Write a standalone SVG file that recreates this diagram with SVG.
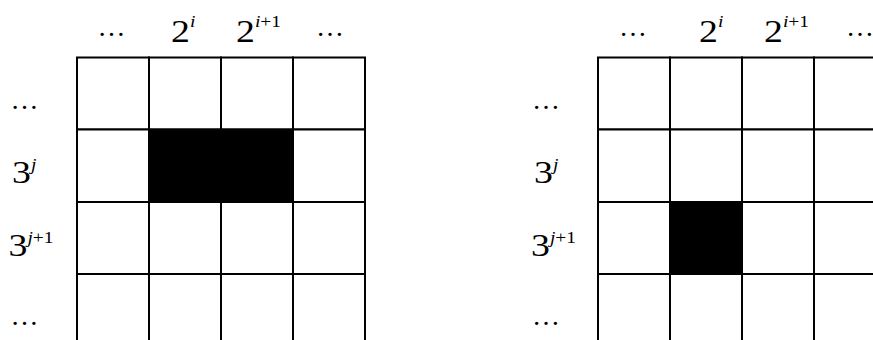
<svg xmlns="http://www.w3.org/2000/svg" width="873" height="340" viewBox="0 0 873 340">
<style>
text{font-family:"Liberation Serif","Times New Roman",serif;fill:#000}
text.m{font-size:31px}
text.d{font-size:28px}
tspan.sup{font-size:16px}
tspan.it{font-style:italic}
.cell{fill:#fff;stroke:#000;stroke-width:2}
.on{fill:#000;stroke:#000;stroke-width:2}
</style>
<rect width="873" height="340" fill="#fff"/>
<g id="left-grid">
<rect class="cell" x="77" y="57.5" width="72" height="72"/>
<rect class="cell" x="149" y="57.5" width="72" height="72"/>
<rect class="cell" x="221" y="57.5" width="72" height="72"/>
<rect class="cell" x="293" y="57.5" width="72" height="72"/>
<rect class="cell" x="77" y="129.5" width="72" height="72.5"/>
<rect class="on" x="149" y="129.5" width="144" height="72.5"/>
<rect class="cell" x="293" y="129.5" width="72" height="72.5"/>
<rect class="cell" x="77" y="202" width="72" height="72"/>
<rect class="cell" x="149" y="202" width="72" height="72"/>
<rect class="cell" x="221" y="202" width="72" height="72"/>
<rect class="cell" x="293" y="202" width="72" height="72"/>
<rect class="cell" x="77" y="274" width="72" height="80"/>
<rect class="cell" x="149" y="274" width="72" height="80"/>
<rect class="cell" x="221" y="274" width="72" height="80"/>
<rect class="cell" x="293" y="274" width="72" height="80"/>
</g>
<g id="left-labels">
<text class="d" x="97.5" y="36">…</text>
<text class="m" transform="translate(171 41.5) scale(1.22 1)">2<tspan class="sup it" dy="-15">i</tspan></text>
<text class="m" transform="translate(236 41.5) scale(1.22 1)">2<tspan class="sup" dy="-15"><tspan class="it">i</tspan>+1</tspan></text>
<text class="d" x="316" y="36">…</text>
<text class="d" x="10.5" y="108.5">…</text>
<text class="m" transform="translate(12 183) scale(1.22 1)">3<tspan class="sup it" dy="-13">j</tspan></text>
<text class="m" transform="translate(8.5 256) scale(1.22 1)">3<tspan class="sup" dy="-13"><tspan class="it">j</tspan>+1</tspan></text>
<text class="d" x="10.5" y="324.5">…</text>
</g>
<g id="right-grid">
<rect class="cell" x="598" y="57.5" width="72" height="72"/>
<rect class="cell" x="670" y="57.5" width="72" height="72"/>
<rect class="cell" x="742" y="57.5" width="72" height="72"/>
<rect class="cell" x="814" y="57.5" width="72" height="72"/>
<rect class="cell" x="598" y="129.5" width="72" height="72.5"/>
<rect class="cell" x="670" y="129.5" width="72" height="72.5"/>
<rect class="cell" x="742" y="129.5" width="72" height="72.5"/>
<rect class="cell" x="814" y="129.5" width="72" height="72.5"/>
<rect class="cell" x="598" y="202" width="72" height="72"/>
<rect class="on" x="670" y="202" width="72" height="72"/>
<rect class="cell" x="742" y="202" width="72" height="72"/>
<rect class="cell" x="814" y="202" width="72" height="72"/>
<rect class="cell" x="598" y="274" width="72" height="80"/>
<rect class="cell" x="670" y="274" width="72" height="80"/>
<rect class="cell" x="742" y="274" width="72" height="80"/>
<rect class="cell" x="814" y="274" width="72" height="80"/>
</g>
<g id="right-labels">
<text class="d" x="619" y="36">…</text>
<text class="m" transform="translate(699 41.5) scale(1.22 1)">2<tspan class="sup it" dy="-15">i</tspan></text>
<text class="m" transform="translate(764 41.5) scale(1.22 1)">2<tspan class="sup" dy="-15"><tspan class="it">i</tspan>+1</tspan></text>
<text class="d" x="846" y="36">…</text>
<text class="d" x="532" y="108.5">…</text>
<text class="m" transform="translate(534 183) scale(1.22 1)">3<tspan class="sup it" dy="-13">j</tspan></text>
<text class="m" transform="translate(531 256) scale(1.22 1)">3<tspan class="sup" dy="-13"><tspan class="it">j</tspan>+1</tspan></text>
<text class="d" x="532" y="324.5">…</text>
</g>
</svg>
